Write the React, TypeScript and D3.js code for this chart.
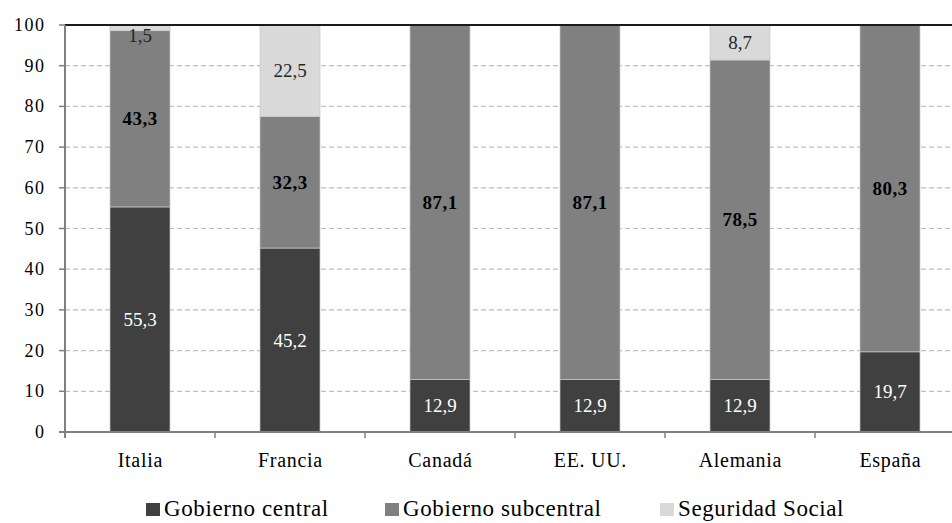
import * as d3 from "d3";

const countries = ["Italia", "Francia", "Canadá", "EE. UU.", "Alemania", "España"];
const central = [55.3, 45.2, 12.9, 12.9, 12.9, 19.7];
const subcentral = [43.3, 32.3, 87.1, 87.1, 78.5, 80.3];
const seguridad = [1.5, 22.5, 0, 0, 8.7, 0];
const seriesNames = ["Gobierno central", "Gobierno subcentral", "Seguridad Social"];
const seriesColors = ["#404040", "#808080", "#d9d9d9"];
const labelColors = ["#ffffff", "#000000", "#262626"];
// Italia's 1,5 sits a bit lower than its thin segment; others are centred
const labelAt: (number | null)[][] = [
  [null, null, 97.5],
  [null, null, null],
  [null, null, null],
  [null, null, null],
  [null, null, null],
  [null, null, null],
];
const yTicks = [0, 10, 20, 30, 40, 50, 60, 70, 80, 90, 100];

const fmt = (v: number) => v.toFixed(1).replace(".", ",");
const FONT = "Liberation Serif";

export default function App() {
  const width = 952;
  const height = 523;
  const left = 65;
  const top = 25;
  const bottom = 432;

  const x = d3.scaleBand<string>().domain(countries).range([left, left + 900]).paddingInner(0).paddingOuter(0);
  const y = d3.scaleLinear().domain([0, 100]).range([bottom, top]);
  const barW = x.bandwidth() * 0.4;

  const series = [central, subcentral, seguridad];

  // legend layout
  const legendX = [146, 385, 660];

  return (
    <div style={{ position: "absolute", left: 0, top: 0 }}>
      <svg width={width} height={height} fontFamily={FONT} style={{ display: "block", background: "#fff" }}>
        {/* grid */}
        {yTicks.filter((t) => t > 0 && t < 100).map((t) => (
          <line key={t} x1={left} x2={width} y1={y(t)} y2={y(t)} stroke="#bfbfbf" strokeWidth={1.2} strokeDasharray="5,3" />
        ))}
        {/* bars */}
        {countries.map((c, i) => {
          let acc = 0;
          return series.map((s, k) => {
            const v = s[i];
            const y0 = acc;
            acc += v;
            if (v <= 0) return null;
            const bx = (x(c) as number) + (x.bandwidth() - barW) / 2;
            const top = Math.min(acc, 100);
            return (
              <rect key={c + k} x={bx} y={y(top)} width={barW} height={y(y0) - y(top)} fill={seriesColors[k]} stroke="#c8c8c8" strokeWidth={0.7} />
            );
          });
        })}
        {/* top line */}
        <line x1={left} x2={width} y1={y(100)} y2={y(100)} stroke="#1a1a1a" strokeWidth={2} />
        {/* axes */}
        <line x1={left} x2={left} y1={y(100)} y2={y(0) + 6} stroke="#808080" strokeWidth={2} />
        <line x1={left - 6} x2={width} y1={y(0)} y2={y(0)} stroke="#808080" strokeWidth={2} />
        {yTicks.map((t) => (
          <g key={t}>
            <line x1={left - 6} x2={left} y1={y(t)} y2={y(t)} stroke="#808080" strokeWidth={1.5} />
            <text x={45.5} y={y(t) + 6} textAnchor="end" fontSize={18} letterSpacing={1.5} fill="#000">{t}</text>
          </g>
        ))}
        {countries.map((c) => (
          <g key={c}>
            <line x1={(x(c) as number) + x.bandwidth()} x2={(x(c) as number) + x.bandwidth()} y1={y(0)} y2={y(0) + 6} stroke="#808080" strokeWidth={1.5} />
            <text x={(x(c) as number) + x.bandwidth() / 2 + 0.4} y={467} textAnchor="middle" fontSize={20} letterSpacing={0.7} fill="#000">{c}</text>
          </g>
        ))}
        {/* value labels */}
        {countries.map((c, i) => {
          let acc = 0;
          return series.map((s, k) => {
            const v = s[i];
            const mid = acc + v / 2;
            acc += v;
            if (v <= 0) return null;
            const pos = labelAt[i][k] ?? mid;
            return (
              <text key={c + "l" + k} x={(x(c) as number) + x.bandwidth() / 2} y={y(pos) + 6.5} textAnchor="middle"
                fontSize={19} letterSpacing={k === 1 ? 0.5 : 0} fontWeight={k === 1 ? "bold" : "normal"} fill={labelColors[k]}>{fmt(v)}</text>
            );
          });
        })}
        {/* legend */}
        {legendX.map((lx, k) => (
          <g key={k}>
            <rect x={lx} y={503} width={14} height={13} fill={seriesColors[k]} />
            <text x={lx + 18} y={516} fontSize={23} letterSpacing={0.6} fill="#000">{seriesNames[k]}</text>
          </g>
        ))}
      </svg>
    </div>
  );
}
